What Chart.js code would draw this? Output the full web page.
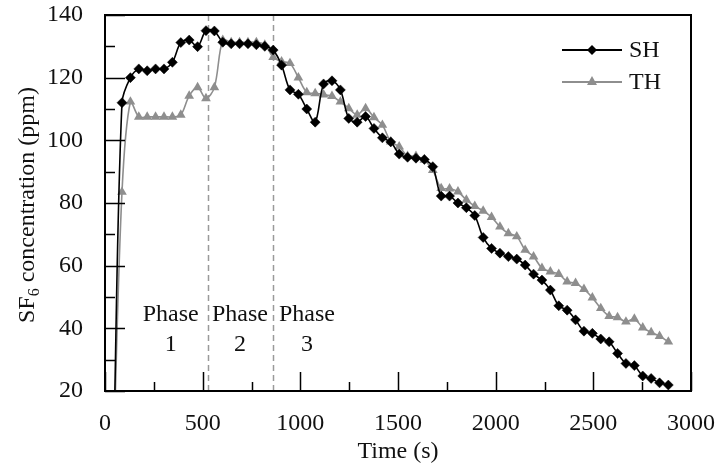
<!DOCTYPE html>
<html><head><meta charset="utf-8">
<script src="https://cdn.jsdelivr.net/npm/chart.js@4/dist/chart.umd.min.js"></script>
<style>html,body{margin:0;padding:0;background:#fff}#wrap{width:718px;height:472px;position:relative}</style>
</head><body><div id="wrap"><canvas id="c" width="718" height="472"></canvas></div>
<script>
// ---- data ----
const timeS = [44, 87, 130, 173, 216, 259, 302, 345, 388, 431, 474, 517, 560, 603, 646, 689, 732, 775, 818, 861,
  904, 947, 990, 1033, 1076, 1119, 1162, 1205, 1248, 1291, 1334, 1377, 1420, 1463, 1506, 1549, 1592, 1635, 1678,
  1721, 1764, 1807, 1850, 1893, 1936, 1979, 2022, 2065, 2108, 2151, 2194, 2237, 2280, 2323, 2366, 2409, 2452,
  2495, 2538, 2581, 2624, 2667, 2710, 2753, 2796, 2839, 2884];
const shValues = [0, 112, 120, 122.8, 122.2, 122.8, 122.8, 124.9, 131.2, 132, 129.9, 135, 134.9, 131.3, 130.8, 130.8,
  130.8, 130.5, 130, 128.8, 124, 116.1, 114.7, 110, 105.8, 118, 119, 116.1, 107, 105.8, 107.6, 103.8, 100.8, 99.5,
  95.6, 94.6, 94.3, 93.9, 91.6, 82.2, 82.2, 80, 78.5, 76, 69, 65.5, 64, 62.9, 62.1, 60.2, 57.3, 55.4, 52.2, 47.2,
  45.8, 42.7, 39.1, 38.4, 36.6, 35.7, 32, 28.8, 28.1, 24.8, 24, 22.6, 21.9];
const thValues = [0, 83.5, 112.3, 107.5, 107.5, 107.5, 107.5, 107.5, 108.1, 114.2, 116.9, 113.4, 116.9, 132, 131.3,
  131.3, 131.3, 131.3, 130.5, 126.5, 125.1, 124.6, 120, 115.3, 115, 114.6, 114.1, 112.3, 110.2, 108.1, 110.2, 107.3,
  104.9, 99.6, 98, 95, 95, 93.7, 90.5, 84.7, 84.6, 83.6, 81, 79, 77.5, 75.5, 72.4, 70.3, 69.3, 65, 62.9, 59.2, 58.1,
  57.3, 54.9, 54.4, 52.5, 49.8, 46.4, 43.9, 43.5, 42.1, 43, 40.2, 38.7, 37.5, 35.7];
const seriesNames = ['SH', 'TH'];
const xTickValues = [0, 500, 1000, 1500, 2000, 2500, 3000];
const yTickValues = [20, 40, 60, 80, 100, 120, 140];
const phaseBoundaries = [526, 858];
const phaseNames = [['Phase', '1'], ['Phase', '2'], ['Phase', '3']];
const phaseCenters = [336, 691, 1034];

// ---- styles ----
const FONT = '"Liberation Serif", "Times New Roman", serif';
const TXT = '#111';
const GRAY = '#8e8e8e';

const pts = (vals) => timeS.map((t, i) => ({ x: t, y: vals[i] }));

const decor = {
  id: 'decor',
  beforeDatasetsDraw(chart) {
    const { ctx, chartArea: a, scales: { x } } = chart;
    ctx.save();
    ctx.strokeStyle = '#9a9a9a';
    ctx.lineWidth = 1.5;
    ctx.setLineDash([6, 4]);
    phaseBoundaries.forEach(v => {
      const px = Math.round(x.getPixelForValue(v)) + 0.5;
      ctx.beginPath(); ctx.moveTo(px, a.top); ctx.lineTo(px, a.bottom); ctx.stroke();
    });
    ctx.setLineDash([]);
    ctx.fillStyle = TXT;
    ctx.font = '24px ' + FONT;
    ctx.textAlign = 'center';
    ctx.textBaseline = 'middle';
    phaseNames.forEach((lines, i) => {
      const px = x.getPixelForValue(phaseCenters[i]);
      ctx.fillText(lines[0], px, 315);
      ctx.fillText(lines[1], px, 345);
    });
    ctx.restore();
  },
  afterDraw(chart) {
    const { ctx, chartArea: a, scales: { x, y } } = chart;
    ctx.save();
    ctx.strokeStyle = '#000';
    ctx.lineWidth = 2;
    ctx.strokeRect(a.left, a.top, a.right - a.left, a.bottom - a.top);
    ctx.lineWidth = 1.5;
    ctx.beginPath();
    for (let v = 0; v <= 3000; v += 250) {
      const px = Math.round(x.getPixelForValue(v)) + 0.5;
      const len = (v % 500 === 0) ? 19 : 9;
      ctx.moveTo(px, a.bottom); ctx.lineTo(px, a.bottom - len);
    }
    for (let v = 20; v <= 140; v += 10) {
      const py = Math.round(y.getPixelForValue(v)) + 0.5;
      const len = (v % 20 === 0) ? 20 : 10;
      ctx.moveTo(a.left, py); ctx.lineTo(a.left + len, py);
    }
    ctx.stroke();

    ctx.fillStyle = TXT;
    ctx.font = '24px ' + FONT;
    ctx.textAlign = 'center';
    ctx.textBaseline = 'middle';
    ctx.fillText('Time (s)', (a.left + a.right) / 2, 452);

    ctx.save();
    ctx.translate(26, 205);
    ctx.rotate(-Math.PI / 2);
    const p1 = 'SF', p2 = '6', p3 = ' concentration (ppm)';
    ctx.font = '24px ' + FONT;
    const w1 = ctx.measureText(p1).width, w3 = ctx.measureText(p3).width;
    ctx.font = '16px ' + FONT;
    const w2 = ctx.measureText(p2).width;
    let sx = -(w1 + w2 + w3) / 2;
    ctx.textAlign = 'left';
    ctx.textBaseline = 'alphabetic';
    ctx.font = '24px ' + FONT;
    ctx.fillText(p1, sx, 8); sx += w1;
    ctx.font = '16px ' + FONT;
    ctx.fillText(p2, sx, 13); sx += w2;
    ctx.font = '24px ' + FONT;
    ctx.fillText(p3, sx, 8);
    ctx.restore();

    const items = [
      { name: seriesNames[0], color: '#000', y: 50, shape: 'diamond' },
      { name: seriesNames[1], color: GRAY, y: 82, shape: 'triangle' }
    ];
    items.forEach(it => {
      ctx.strokeStyle = it.color; ctx.fillStyle = it.color; ctx.lineWidth = 2;
      ctx.beginPath(); ctx.moveTo(562, it.y); ctx.lineTo(622, it.y); ctx.stroke();
      ctx.beginPath();
      if (it.shape === 'diamond') {
        ctx.moveTo(592, it.y - 5); ctx.lineTo(597, it.y); ctx.lineTo(592, it.y + 5); ctx.lineTo(587, it.y);
      } else {
        ctx.moveTo(592, it.y - 6); ctx.lineTo(597, it.y + 3); ctx.lineTo(587, it.y + 3);
      }
      ctx.closePath(); ctx.fill();
      ctx.fillStyle = TXT;
      ctx.font = '24px ' + FONT;
      ctx.textAlign = 'left';
      ctx.textBaseline = 'middle';
      ctx.fillText(it.name, 629, it.y + 1);
    });
    ctx.restore();
  }
};

new Chart(document.getElementById('c'), {
  type: 'line',
  data: {
    datasets: [
      {
        label: seriesNames[0], data: pts(shValues),
        borderColor: '#000', backgroundColor: '#000', borderWidth: 1.6,
        pointStyle: 'rectRot', pointRadius: 5, pointBorderWidth: 0.5, pointBorderColor: '#000',
        tension: 0.33, fill: false
      },
      {
        label: seriesNames[1], data: pts(thValues),
        borderColor: GRAY, backgroundColor: GRAY, borderWidth: 1.6,
        pointStyle: 'triangle', pointRadius: 5.6, pointBorderWidth: 0, pointBorderColor: GRAY,
        tension: 0.33, fill: false
      }
    ]
  },
  options: {
    responsive: false,
    animation: false,
    devicePixelRatio: 1,
    layout: { padding: { left: 0, top: 15, right: 27, bottom: 0 } },
    plugins: { legend: { display: false }, tooltip: { enabled: false } },
    scales: {
      x: {
        type: 'linear', min: 0, max: 3000,
        afterBuildTicks: s => { s.ticks = xTickValues.map(v => ({ value: v })); },
        afterFit: s => { s.height = 81; s.paddingLeft = 0; s.paddingRight = 0; },
        grid: { display: false, drawTicks: false },
        border: { display: false },
        ticks: { font: { family: FONT, size: 24 }, color: TXT, padding: 18, maxRotation: 0, callback: v => String(v) }
      },
      y: {
        type: 'linear', min: 20, max: 140,
        afterBuildTicks: s => { s.ticks = yTickValues.map(v => ({ value: v })); },
        afterFit: s => { s.width = 105; s.paddingTop = 0; s.paddingBottom = 0; },
        grid: { display: false, drawTicks: false },
        border: { display: false },
        ticks: { font: { family: FONT, size: 24 }, color: TXT, padding: 22, callback: v => String(v) }
      }
    }
  },
  plugins: [decor]
});
</script>
</body></html>
